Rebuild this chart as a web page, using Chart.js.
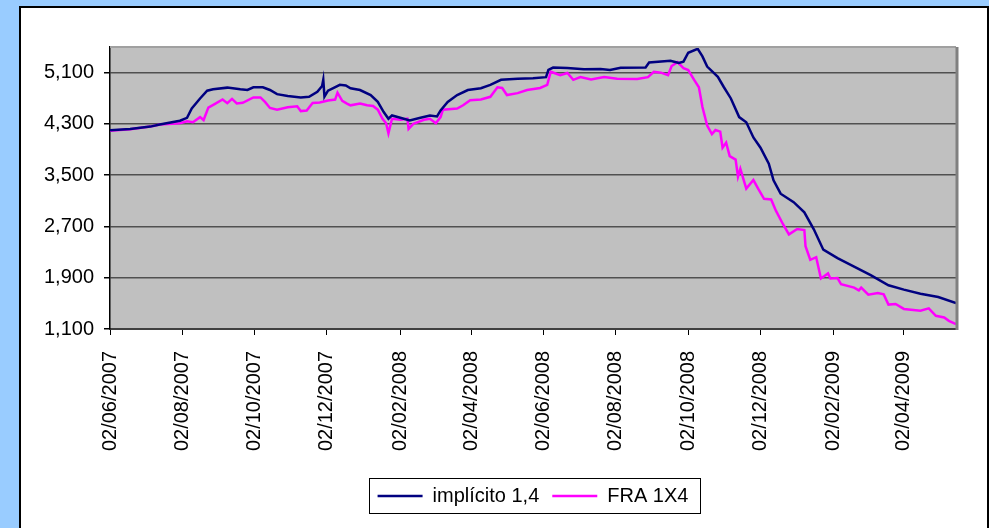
<!DOCTYPE html>
<html>
<head>
<meta charset="utf-8">
<script src="https://cdn.jsdelivr.net/npm/chart.js@4.4.1/dist/chart.umd.min.js"></script>
<style>
  html, body { margin: 0; padding: 0; background: #99ccff; }
  canvas { display: block; }
</style>
</head>
<body>
<canvas id="rateChart" width="989" height="528"></canvas>
<script>
const implDates = [
  '2007-06-02','2007-06-19','2007-07-06','2007-07-14','2007-07-31','2007-08-06','2007-08-10','2007-08-17',
  '2007-08-23','2007-08-28','2007-09-09','2007-09-20','2007-09-26','2007-10-01','2007-10-09','2007-10-15',
  '2007-10-21','2007-10-30','2007-11-10','2007-11-17','2007-11-24','2007-11-28','2007-11-29','2007-11-30',
  '2007-12-03','2007-12-07','2007-12-13','2007-12-18','2007-12-22','2007-12-30','2008-01-08','2008-01-14',
  '2008-01-19','2008-01-23','2008-01-26','2008-02-02','2008-02-10','2008-02-19','2008-02-27','2008-03-04',
  '2008-03-07','2008-03-13','2008-03-21','2008-03-30','2008-04-10','2008-04-18','2008-04-27','2008-05-11',
  '2008-05-24','2008-06-04','2008-06-06','2008-06-10','2008-06-22','2008-07-06','2008-07-20','2008-07-28',
  '2008-08-06','2008-08-27','2008-08-30','2008-09-17','2008-09-24','2008-09-28','2008-10-02','2008-10-10',
  '2008-10-14','2008-10-18','2008-10-27','2008-11-01','2008-11-07','2008-11-14','2008-11-20','2008-11-26',
  '2008-12-02','2008-12-09','2008-12-13','2008-12-19','2008-12-30','2009-01-08','2009-01-16','2009-01-24',
  '2009-02-05','2009-02-19','2009-03-05','2009-03-20','2009-04-02','2009-04-16','2009-05-01','2009-05-16'
];
const implValues = [
  4200, 4220, 4258, 4290, 4350, 4395, 4540, 4697,
  4818, 4840, 4866, 4840, 4830, 4871, 4871, 4829,
  4765, 4734, 4713, 4722, 4802, 4892, 4990, 4725,
  4818, 4856, 4909, 4900, 4856, 4829, 4750, 4644,
  4485, 4380, 4432, 4395, 4353, 4395, 4432, 4416,
  4511, 4644, 4750, 4829, 4856, 4909, 4988, 5004,
  5014, 5030, 5142, 5179, 5172, 5153, 5155, 5142,
  5175, 5180, 5258, 5285, 5250, 5272, 5410, 5470,
  5353, 5194, 5035, 4876, 4697, 4406, 4326, 4088,
  3929, 3680, 3420, 3211, 3079, 2920, 2655, 2338,
  2206, 2074, 1941, 1782, 1714, 1651, 1598, 1503
];

const fraDates = [
  '2007-06-02','2007-06-19','2007-07-06','2007-07-14','2007-07-31','2007-08-06','2007-08-11','2007-08-17',
  '2007-08-20','2007-08-24','2007-08-30','2007-09-05','2007-09-09','2007-09-13','2007-09-17','2007-09-22',
  '2007-10-01','2007-10-07','2007-10-11','2007-10-15','2007-10-21','2007-10-30','2007-11-07','2007-11-10',
  '2007-11-15','2007-11-20','2007-11-26','2007-12-03','2007-12-09','2007-12-11','2007-12-15','2007-12-19',
  '2007-12-22','2007-12-30','2008-01-05','2008-01-10','2008-01-14','2008-01-18','2008-01-21','2008-01-23',
  '2008-01-26','2008-02-02','2008-02-08','2008-02-09','2008-02-13','2008-02-22','2008-02-27','2008-03-03',
  '2008-03-07','2008-03-09','2008-03-21','2008-03-26','2008-04-01','2008-04-10','2008-04-18','2008-04-24',
  '2008-04-28','2008-05-02','2008-05-11','2008-05-19','2008-05-30','2008-06-05','2008-06-08','2008-06-16',
  '2008-06-22','2008-06-27','2008-07-03','2008-07-12','2008-07-23','2008-08-03','2008-08-20','2008-08-29',
  '2008-09-03','2008-09-09','2008-09-15','2008-09-18','2008-09-23','2008-09-28','2008-10-02','2008-10-07',
  '2008-10-11','2008-10-14','2008-10-18','2008-10-22','2008-10-25','2008-10-29','2008-10-31','2008-11-03',
  '2008-11-06','2008-11-11','2008-11-13','2008-11-15','2008-11-20','2008-11-26','2008-11-30','2008-12-05',
  '2008-12-11','2008-12-15','2008-12-21','2008-12-26','2009-01-02','2009-01-08','2009-01-09','2009-01-13',
  '2009-01-18','2009-01-22','2009-01-28','2009-01-30','2009-02-05','2009-02-08','2009-02-19','2009-02-23',
  '2009-02-25','2009-03-03','2009-03-11','2009-03-16','2009-03-20','2009-03-26','2009-04-02','2009-04-16',
  '2009-04-23','2009-04-29','2009-05-06','2009-05-10','2009-05-16'
];
const fraValues = [
  4195, 4215, 4258, 4289, 4310, 4342, 4326, 4406,
  4360, 4554, 4617, 4681, 4623, 4691, 4620, 4630,
  4713, 4713, 4640, 4549, 4522, 4560, 4575, 4500,
  4510, 4628, 4635, 4665, 4680, 4787, 4660, 4617,
  4590, 4617, 4590, 4580, 4522, 4380, 4310, 4152,
  4380, 4364, 4380, 4221, 4300, 4364, 4380, 4310,
  4406, 4522, 4540, 4591, 4670, 4680, 4723, 4871,
  4860, 4750, 4780, 4829, 4860, 4909, 5114, 5061,
  5095, 4988, 5030, 4995, 5030, 5005, 5000, 5030,
  5114, 5100, 5060, 5204, 5264, 5169, 5140, 4988,
  4871, 4564, 4273, 4141, 4204, 4180, 3929, 4008,
  3797, 3744, 3476, 3598, 3290, 3424, 3290, 3131,
  3120, 2947, 2735, 2576, 2660, 2645, 2392, 2180,
  2220, 1889, 1968, 1889, 1895, 1798, 1746, 1703,
  1746, 1635, 1660, 1640, 1481, 1490, 1413, 1386,
  1423, 1306, 1281, 1227, 1175
];

const tickDates = [
  '2007-06-02','2007-08-02','2007-10-02','2007-12-02','2008-02-02','2008-04-02',
  '2008-06-02','2008-08-02','2008-10-02','2008-12-02','2009-02-02','2009-04-02'
];
const tickLabels = [
  '02/06/2007','02/08/2007','02/10/2007','02/12/2007','02/02/2008','02/04/2008',
  '02/06/2008','02/08/2008','02/10/2008','02/12/2008','02/02/2009','02/04/2009'
];
const yTicks = [1100, 1900, 2700, 3500, 4300, 5100];
const firstDate = '2007-06-02';
const lastDate = '2009-05-16';

// days since the first date, so the x axis behaves like a date axis
function dayNum(s) {
  const [y, m, d] = s.split('-').map(Number);
  const [y0, m0, d0] = firstDate.split('-').map(Number);
  return (Date.UTC(y, m - 1, d) - Date.UTC(y0, m0 - 1, d0)) / 86400000;
}
const toPoints = (dates, vals) => dates.map((d, i) => ({ x: dayNum(d), y: vals[i] }));

const FONT = 'Arial, "Liberation Sans", sans-serif';

const frame = {
  id: 'frame',
  afterLayout(chart) {
    // centre the legend under the plot area, not the whole canvas
    const lg = chart.legend, a = chart.chartArea;
    const shift = (a.left + a.right) / 2 - (lg.left + lg.right) / 2;
    lg.left += shift;
    lg.right += shift;
  },
  beforeDraw(chart) {
    const c = chart.ctx, a = chart.chartArea;
    c.save();
    c.fillStyle = '#99ccff';
    c.fillRect(0, 0, chart.width, chart.height);
    c.fillStyle = '#ffffff';
    c.fillRect(20, 7, 968, chart.height - 7);
    c.strokeStyle = '#000';
    c.lineWidth = 2;
    c.beginPath();
    c.moveTo(20, chart.height);
    c.lineTo(20, 7);
    c.lineTo(988, 7);
    c.lineTo(988, chart.height);
    c.stroke();
    c.fillStyle = '#c0c0c0';
    c.fillRect(a.left, a.top, a.right - a.left, a.bottom - a.top);
    c.restore();
  },
  afterDraw(chart) {
    const c = chart.ctx, a = chart.chartArea;
    c.save();
    c.strokeStyle = '#a0a0a0';
    c.lineWidth = 2;
    c.beginPath();
    c.moveTo(a.left, a.top);
    c.lineTo(a.right, a.top);
    c.stroke();
    c.strokeStyle = '#808080';
    c.lineWidth = 3;
    c.beginPath();
    c.moveTo(a.right + 1, a.top);
    c.lineTo(a.right + 1, a.bottom + 1);
    c.stroke();
    // box around the legend
    const boxes = chart.legend.legendHitBoxes;
    if (boxes && boxes.length) {
      const l = Math.min(...boxes.map(b => b.left));
      const r = Math.max(...boxes.map(b => b.left + b.width));
      const t = Math.min(...boxes.map(b => b.top));
      const h = boxes[0].height;
      c.strokeStyle = '#000';
      c.lineWidth = 1;
      c.strokeRect(Math.round(l - 9) + 0.5, Math.round(t - 8) + 0.5, Math.round(r - l + 20), Math.round(h + 15));
    }
    c.restore();
  }
};

new Chart(document.getElementById('rateChart'), {
  type: 'line',
  data: {
    datasets: [{
      label: 'implícito 1,4',
      data: toPoints(implDates, implValues),
      borderColor: '#000080',
      backgroundColor: '#000080',
      borderWidth: 2.5,
      pointRadius: 0,
      pointStyle: 'line',
      tension: 0
    }, {
      label: 'FRA 1X4',
      data: toPoints(fraDates, fraValues),
      borderColor: '#ff00ff',
      backgroundColor: '#ff00ff',
      borderWidth: 2.5,
      pointRadius: 0,
      pointStyle: 'line',
      tension: 0
    }]
  },
  options: {
    responsive: false,
    animation: false,
    layout: { padding: { left: 0, top: 47, right: 33, bottom: 12 } },
    plugins: {
      tooltip: { enabled: false },
      legend: {
        position: 'bottom',
        labels: {
          usePointStyle: true,
          pointStyle: 'line',
          pointStyleWidth: 45,
          padding: 13,
          color: '#000',
          font: { family: FONT, size: 20 }
        }
      }
    },
    scales: {
      x: {
        type: 'linear',
        min: 0,
        max: dayNum(lastDate),
        afterBuildTicks: axis => { axis.ticks = tickDates.map(d => ({ value: dayNum(d) })); },
        afterFit: axis => { axis.height = 144; },
        grid: { drawOnChartArea: false, drawTicks: true, tickLength: 6, tickColor: '#000' },
        border: { display: true, color: '#404040', width: 2 },
        ticks: {
          autoSkip: false,
          minRotation: 90,
          maxRotation: 90,
          padding: 16,
          color: '#000',
          font: { family: FONT, size: 20 },
          callback: (v, i) => tickLabels[i]
        }
      },
      y: {
        min: 1100,
        max: 5500,
        afterBuildTicks: axis => { axis.ticks = yTicks.map(v => ({ value: v })); },
        afterFit: axis => { axis.width = 110; },
        grid: { color: '#505050', lineWidth: 1.5, tickLength: 6, tickColor: '#000' },
        border: { display: true, color: '#000', width: 1.5 },
        ticks: {
          padding: 10,
          color: '#000',
          font: { family: FONT, size: 20 },
          callback: v => v.toLocaleString('en-US')
        }
      }
    }
  },
  plugins: [frame]
});
</script>
</body>
</html>
